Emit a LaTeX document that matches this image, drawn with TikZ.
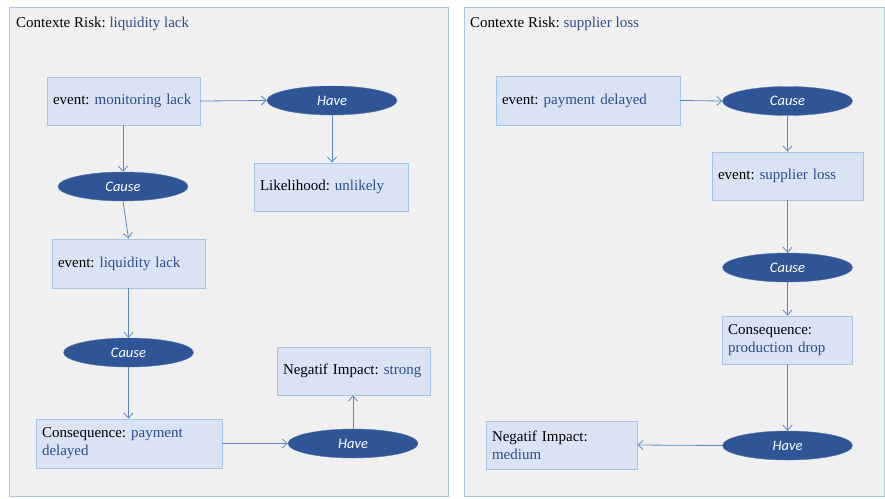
\documentclass[tikz,border=0pt]{standalone}
\usepackage{fontspec}
\setmainfont{Liberation Serif}
\newfontfamily\ellfont{Carlito}
\usetikzlibrary{arrows.meta,shapes.geometric}
\definecolor{panelfill}{HTML}{F0F0F0}
\definecolor{panelline}{HTML}{A9C8EA}
\definecolor{boxfill}{HTML}{DAE3F3}
\definecolor{boxline}{HTML}{A4C4E8}
\definecolor{valblue}{HTML}{2F4B8A}
\definecolor{ellfill}{HTML}{2F5597}
\definecolor{linkblue}{HTML}{5A8AC6}
\tikzset{
  panel/.style={draw=panelline, fill=panelfill, line width=1pt},
  infobox/.style={rectangle, draw=boxline, fill=boxfill, line width=0.9pt,
    inner xsep=6pt, inner ysep=2pt, align=left, font=\fontsize{15}{18}\selectfont},
  relation/.style={ellipse, fill=ellfill, draw=ellfill!80, inner sep=0pt,
    minimum width=130pt, minimum height=29pt, text=white,
    font=\ellfont\itshape\fontsize{14.5}{16}\selectfont},
  link/.style={draw=linkblue, line width=0.8pt, -{Straight Barb[length=5pt,width=9pt]}},
  caption/.style={anchor=west, inner sep=0pt, font=\fontsize{15}{18}\selectfont}
}
\newcommand{\val}[1]{\textcolor{valblue}{#1}}
\begin{document}
\frenchspacing
\begin{tikzpicture}[x=1pt,y=-1pt]
\useasboundingbox (0,0) rectangle (885,498);
\fill[white] (0,0) rectangle (885,498);

% ---- left panel: liquidity lack ----
\draw[panel] (9,7) rectangle (448,496);
\node[caption] (t1) at (16,24) {Contexte Risk: \val{liquidity lack}};

\node[infobox, text width=141pt, minimum height=48pt] (a1) at (123.5,101) {event: \val{monitoring lack}};
\node[relation] (ah) at (332,100.5) {Have};
\node[infobox, text width=142pt, minimum height=48pt] (al) at (331,187) {Likelihood: \val{unlikely}};
\node[relation] (ac1) at (123,186.5) {Cause};
\node[infobox, text width=141pt, minimum height=49pt] (a2) at (128.5,263.5) {event: \val{liquidity lack}};
\node[relation] (ac2) at (128.5,352.5) {Cause};
\node[infobox, text width=174pt, minimum height=49pt] (a3) at (129,443.5) {Consequence: \val{payment}\\\val{delayed}};
\node[relation] (ah2) at (353,443.5) {Have};
\node[infobox, text width=141pt, minimum height=48pt] (ai) at (353.5,371) {Negatif Impact: \val{strong}};

\draw[link] (a1.east) -- (ah.west);
\draw[link] (ah.south) -- (ah.south |- al.north);
\draw[link] (a1.south -| ac1.north) -- (ac1.north);
\draw[link] (ac1.south) -- (a2.north);
\draw[link] (a2.south) -- (ac2.north);
\draw[link] (ac2.south) -- (ac2.south |- a3.north);
\draw[link] (a3.east) -- (ah2.west);
\draw[link] (ah2.north) -- (ah2.north |- ai.south);

% ---- right panel: supplier loss ----
\draw[panel] (464,7) rectangle (884.5,496);
\node[caption] (t2) at (470,24) {Contexte Risk: \val{supplier loss}};

\node[infobox, text width=172pt, minimum height=49pt] (b1) at (588,100.5) {event: \val{payment delayed}};
\node[relation] (bc1) at (787.5,101) {Cause};
\node[infobox, text width=139pt, minimum height=48pt] (b2) at (787.5,176) {event: \val{supplier loss}};
\node[relation] (bc2) at (787.5,267.5) {Cause};
\node[infobox, text width=118pt, minimum height=48pt] (b3) at (787,340) {Consequence:\\\val{production drop}};
\node[relation] (bh) at (787.5,445.5) {Have};
\node[infobox, text width=139pt, minimum height=48pt] (bi) at (561.5,445) {Negatif Impact:\\\val{medium}};

\draw[link] (b1.east) -- (bc1.west);
\draw[link] (bc1.south) -- (bc1.south |- b2.north);
\draw[link] (b2.south) -- (bc2.north);
\draw[link] (bc2.south) -- (bc2.south |- b3.north);
\draw[link] (bc2.south |- b3.south) -- (bh.north);
\draw[link] (bh.west) -- (bi.east);
\end{tikzpicture}
\end{document}
